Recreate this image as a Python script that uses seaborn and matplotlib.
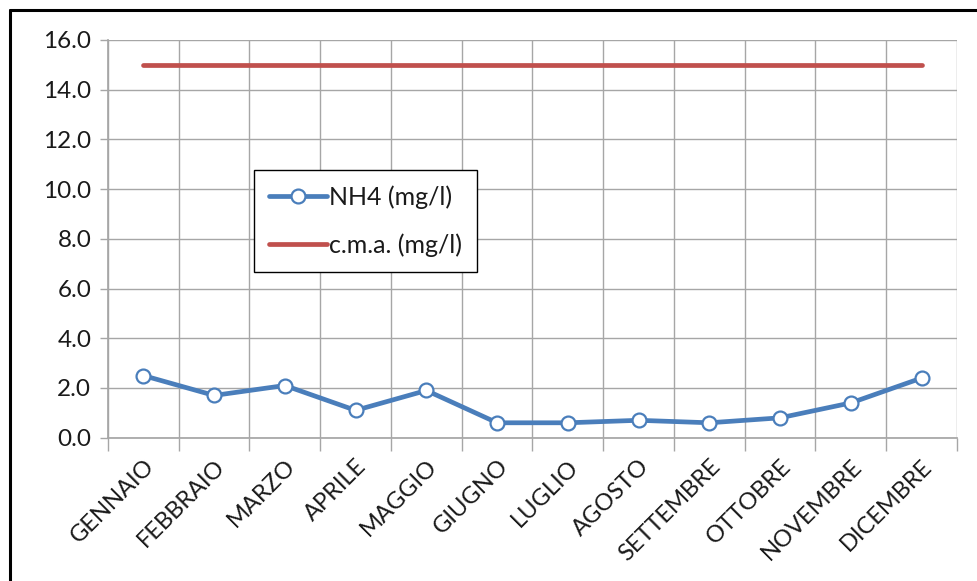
import numpy as np
import pandas as pd
import matplotlib
matplotlib.use("Agg")
import matplotlib.pyplot as plt
from matplotlib.lines import Line2D
from matplotlib.ticker import FixedLocator
import seaborn as sns

# Monthly ammonium concentration vs. maximum admissible concentration
mesi = ["GENNAIO", "FEBBRAIO", "MARZO", "APRILE", "MAGGIO", "GIUGNO",
        "LUGLIO", "AGOSTO", "SETTEMBRE", "OTTOBRE", "NOVEMBRE", "DICEMBRE"]
nh4 = [2.5, 1.7, 2.1, 1.1, 1.9, 0.6, 0.6, 0.7, 0.6, 0.8, 1.4, 2.4]
cma = [15.0] * 12
y_ticks = [0, 2, 4, 6, 8, 10, 12, 14, 16]

df = pd.DataFrame({"mese": mesi, "NH4 (mg/l)": nh4, "c.m.a. (mg/l)": cma})

sns.set_theme(style="white")
plt.rcParams["font.family"] = ["Lato", "DejaVu Sans"]

blue = "#4A7EBB"
red = "#C0504D"
grid_c = "#A6A6A6"
txt_c = "#1A1A1A"

fig = plt.figure(figsize=(9.78, 5.81), dpi=100)
ax = fig.add_axes([108 / 978, 1 - 437.7 / 581, (957 - 108) / 978, (437.7 - 40) / 581])

sns.lineplot(data=df, x="mese", y="NH4 (mg/l)", ax=ax, color=blue, lw=3.4,
             marker="o", markersize=10, markerfacecolor="white",
             markeredgecolor=blue, markeredgewidth=1.6, label="NH4 (mg/l)",
             sort=False, zorder=4)
sns.lineplot(data=df, x="mese", y="c.m.a. (mg/l)", ax=ax, color=red, lw=3.4,
             label="c.m.a. (mg/l)", sort=False, zorder=3,
             solid_capstyle="round")

ax.set_xlim(-0.5, len(mesi) - 0.5)
ax.set_ylim(0, 16)
ax.set_xlabel("")
ax.set_ylabel("")

# y axis
ax.yaxis.set_major_locator(FixedLocator(y_ticks))
ax.set_yticklabels([f"{v:.1f}" for v in y_ticks])
ax.tick_params(axis="y", which="major", length=6, width=1, color=grid_c,
               labelsize=17.5, labelcolor=txt_c, pad=6, left=True)

# x axis: labels at category centres, grid/ticks at category boundaries
ax.set_xticks(range(len(mesi)))
ax.set_xticklabels(mesi, rotation=45, ha="right", rotation_mode="anchor")
ax.xaxis.set_minor_locator(FixedLocator(np.arange(-0.5, len(mesi), 1.0)))
ax.tick_params(axis="x", which="major", length=0, labelsize=17,
               labelcolor=txt_c, pad=13)
ax.tick_params(axis="x", which="minor", length=9, width=1, color=grid_c,
               bottom=True, direction="out")

ax.grid(False)
ax.yaxis.grid(True, which="major", color=grid_c, lw=1)
ax.xaxis.grid(True, which="minor", color=grid_c, lw=1)
for s in ax.spines.values():
    s.set_visible(False)
ax.spines["bottom"].set_visible(True)
ax.spines["bottom"].set_color(grid_c)
ax.spines["left"].set_visible(True)
ax.spines["left"].set_color(grid_c)

leg = ax.legend(loc="upper left", bbox_to_anchor=(254 / 978, 1 - 170 / 581),
                bbox_transform=fig.transFigure, fontsize=18, frameon=True,
                fancybox=False, edgecolor="black", framealpha=1,
                handlelength=2.3, handletextpad=0.1, borderpad=0.6,
                labelspacing=1.0, borderaxespad=0)
leg.get_frame().set_linewidth(1.0)
for t in leg.get_texts():
    t.set_color(txt_c)

# chart-area border (left and top edges)
fig.add_artist(Line2D([9.5 / 978, 9.5 / 978], [0, 1 - 10 / 581],
                      transform=fig.transFigure, color="black", lw=2.2))
fig.add_artist(Line2D([9.5 / 978, 1], [1 - 10 / 581, 1 - 10 / 581],
                      transform=fig.transFigure, color="black", lw=2.2))

fig.savefig("out.png", dpi=100)
